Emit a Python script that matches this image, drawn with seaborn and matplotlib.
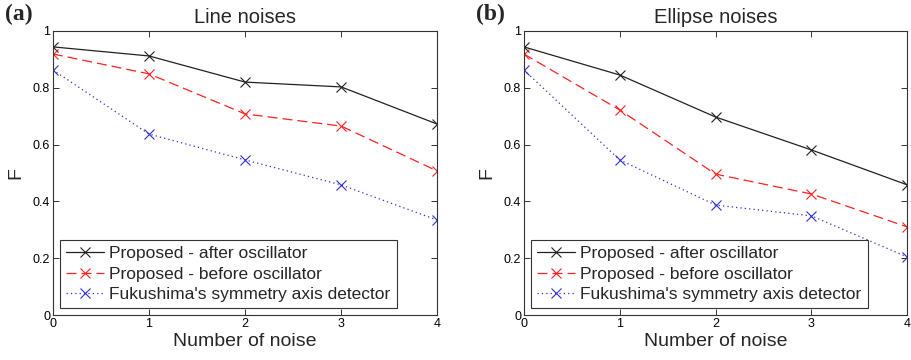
import numpy as np
import pandas as pd
import matplotlib
matplotlib.use("Agg")
import matplotlib.pyplot as plt
import seaborn as sns

# Данные
noise = [0, 1, 2, 3, 4]
line_after = [0.944, 0.912, 0.820, 0.803, 0.672]
line_before = [0.919, 0.849, 0.708, 0.665, 0.507]
line_fukushima = [0.863, 0.637, 0.546, 0.458, 0.334]
ellipse_after = [0.944, 0.845, 0.697, 0.581, 0.458]
ellipse_before = [0.919, 0.722, 0.496, 0.426, 0.310]
ellipse_fukushima = [0.863, 0.546, 0.387, 0.349, 0.204]
series_names = ["Proposed - after oscillator", "Proposed - before oscillator",
                "Fukushima's symmetry axis detector"]

sns.set_style("ticks")
plt.rcParams['font.family'] = ['Liberation Sans', 'DejaVu Sans']
plt.rcParams['xtick.direction'] = 'in'
plt.rcParams['ytick.direction'] = 'in'

styles = [('#222222', '-'), ('#ff2020', (0, (8, 4))), ('#3030d0', (0, (1, 2.5)))]


def draw_panel(ax, values, title, letter):
    for vals, name, (col, ls) in zip(values, series_names, styles):
        df = pd.DataFrame({'x': noise, 'y': vals})
        sns.lineplot(data=df, x='x', y='y', ax=ax, color=col, linestyle=ls,
                     marker='x', markersize=6.5, markeredgewidth=0.8,
                     markeredgecolor=col, linewidth=0.9, label=name)
    ax.set_xlim(0, 4)
    ax.set_ylim(0, 1)
    ax.set_xticks(noise)
    ax.set_yticks([0, 0.2, 0.4, 0.6, 0.8, 1])
    ax.set_yticklabels(['0', '0.2', '0.4', '0.6', '0.8', '1'])
    ax.tick_params(labelsize=9, top=True, right=True, length=4, width=0.7,
                   colors='#333333', labelcolor='black', pad=2)
    for sp in ax.spines.values():
        sp.set_visible(True)
        sp.set_linewidth(0.8)
        sp.set_color('#333333')
    ax.set_xlabel('Number of noise', fontsize=14, labelpad=2)
    ax.set_ylabel('F', fontsize=14, labelpad=6)
    ax.set_title(title, fontsize=14.5, pad=6)
    leg = ax.legend(loc='lower left', fontsize=12.5, frameon=True, fancybox=False,
                    handlelength=2.2, handletextpad=0.3, borderpad=0.35,
                    labelspacing=0.3, borderaxespad=0.4)
    leg.get_frame().set_edgecolor('black')
    leg.get_frame().set_linewidth(0.8)
    ax.text(-0.125, 1.02, letter, transform=ax.transAxes, fontsize=17,
            fontweight='bold', family='Liberation Serif', va='bottom', ha='left')


fig = plt.figure(figsize=(9.11, 3.6), dpi=100)
ax1 = fig.add_axes([0.058, 0.125, 0.422, 0.789])
ax2 = fig.add_axes([0.575, 0.125, 0.421, 0.789])

draw_panel(ax1, [line_after, line_before, line_fukushima], 'Line noises', '(a)')
draw_panel(ax2, [ellipse_after, ellipse_before, ellipse_fukushima], 'Ellipse noises', '(b)')

fig.savefig('out.png', dpi=100)
